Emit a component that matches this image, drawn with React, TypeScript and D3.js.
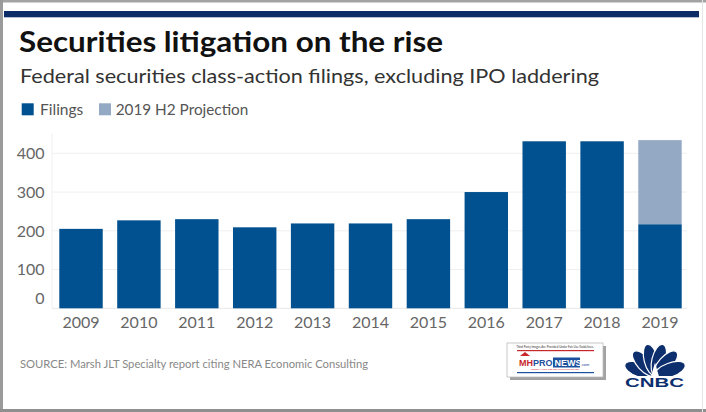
import React from 'react';
import * as d3 from 'd3';

const years = ['2009', '2010', '2011', '2012', '2013', '2014', '2015', '2016', '2017', '2018', '2019'];
const filings = [205, 227, 230, 209, 219, 219, 230, 300, 431, 431, 217];
const projection = [0, 0, 0, 0, 0, 0, 0, 0, 0, 0, 217];
const yTicks = [0, 100, 200, 300, 400];
const seriesNames = ['Filings', '2019 H2 Projection'];
const seriesColors = ['#01508f', '#94a9c3'];

const W = 706;
const H = 412;
const FONT = 'Lato, "Open Sans", sans-serif';

export default function App() {
  const x = d3.scaleBand<string>().domain(years).range([59.3, 681.7]).paddingInner(0.25).paddingOuter(0);
  const y = d3.scaleLinear().domain([0, 400]).range([308.3, 153.3]);

  const rows = years.map((yr, i) => ({ year: yr, filings: filings[i], projection: projection[i] }));
  const stacked = d3.stack<any>().keys(['filings', 'projection'])(rows);

  // CNBC peacock feathers
  const cx = 655, cy = 375.5;
  const angles = [-70, -42, -14, 14, 42, 70];

  return (
    <svg width={W} height={H} style={{ position: 'absolute', left: 0, top: 0, background: '#fff' }} fontFamily={FONT}>
      <rect x={0} y={0} width={W} height={H} fill="#fff" />
      {/* frame */}
      <rect x={0} y={0} width={W} height={2.5} fill="#a3a3a3" />
      <rect x={0} y={0} width={3} height={H} fill="#9a9a9a" />
      <rect x={0} y={409} width={W} height={3} fill="#8f8f8f" />
      <rect x={702} y={0} width={1} height={H} fill="#e6e6e6" />
      {/* top navy band */}
      <rect x={4} y={11} width={695} height={6.3} fill="#0b2c66" />

      {/* titles */}
      <text x={19} y={51.5} fontSize={28.5} fontWeight={700} fill="#111" textLength={424} lengthAdjust="spacingAndGlyphs">Securities litigation on the rise</text>
      <text x={20} y={82.5} fontSize={20} fill="#333" textLength={579} lengthAdjust="spacingAndGlyphs">Federal securities class-action filings, excluding IPO laddering</text>

      {/* legend */}
      <rect x={21.7} y={103.3} width={12} height={12} fill={seriesColors[0]} />
      <text x={40} y={115} fontSize={15} fill="#555" textLength={43.3} lengthAdjust="spacingAndGlyphs">{seriesNames[0]}</text>
      <rect x={99} y={103.3} width={12} height={12} fill={seriesColors[1]} />
      <text x={115.7} y={115} fontSize={15} fill="#555" textLength={132.6} lengthAdjust="spacingAndGlyphs">{seriesNames[1]}</text>

      {/* grid */}
      <line x1={52} x2={52} y1={133} y2={308.3} stroke="#f0f0f0" />
      {yTicks.map((t) => (
        <line key={'g' + t} x1={52} x2={687} y1={y(t)} y2={y(t)} stroke={t === 0 ? '#e8e8e8' : '#efefef'} />
      ))}
      {yTicks.map((t) => (
        <text key={'yl' + t} x={44.5} y={t === 0 ? y(t) - 10 : y(t)} dy="0.36em" textAnchor="end" fontSize={16} fill="#666">
          {t}
        </text>
      ))}

      {/* bars */}
      {stacked.map((s, si) => (
        <g key={s.key} fill={seriesColors[si]}>
          {s.map((d: any, i: number) => (
            d[1] - d[0] > 0 ? (
              <rect key={i} x={x(d.data.year)} y={y(d[1])} width={x.bandwidth()} height={y(d[0]) - y(d[1])} />
            ) : null
          ))}
        </g>
      ))}

      {/* x labels */}
      {years.map((yr) => (
        <text key={yr} x={(x(yr) as number) + x.bandwidth() / 2} y={328.3} textAnchor="middle" fontSize={16} fill="#666">
          {yr}
        </text>
      ))}

      {/* source */}
      <text x={20} y={367.5} fontSize={12} fill="#888" textLength={348} lengthAdjust="spacingAndGlyphs">SOURCE: Marsh JLT Specialty report citing NERA Economic Consulting</text>

      {/* MHProNews logo */}
      <g>
        <rect x={510} y={346} width={96} height={34} fill="#555" opacity={0.55} />
        <rect x={507} y={343} width={96} height={34} fill="#fff" stroke="#bbb" strokeWidth={0.8} />
        <text x={555} y={347.5} fontSize={3} textAnchor="middle" fill="#333">Third Party Images Are Provided Under Fair Use Guidelines.</text>
        <rect x={517} y={350} width={77} height={1.2} fill="#c8262c" />
        <path d="M520,356 L525,352 L530,356 Z" fill="#c8262c" />
        <text x={519} y={366} fontSize={9} fontWeight={700} fill="#c8262c" fontFamily="'Liberation Sans', Arial, sans-serif">MH</text>
        <text x={533} y={366} fontSize={9} fontWeight={700} fill="#1c4f9c" fontFamily="'Liberation Sans', Arial, sans-serif">PRO</text>
        <rect x={553} y={357.5} width={27} height={10} fill="#1c4f9c" />
        <text x={554.5} y={366} fontSize={9} fontWeight={700} fill="#fff" fontFamily="'Liberation Sans', Arial, sans-serif">NEWS</text>
        <text x={581} y={366} fontSize={4} fill="#1c4f9c">.com</text>
        <text x={555} y={370} fontSize={2.5} textAnchor="middle" fill="#c8262c">Industry News, Tips and Views Pros can Use</text>
        <rect x={517} y={372} width={77} height={1.2} fill="#1c4f9c" />
      </g>

      {/* CNBC logo */}
      <g>
        {angles.map((a) => {
          const r = (a * Math.PI) / 180;
          const ex = cx + 16 * Math.sin(r);
          const ey = cy - 16 * Math.cos(r);
          return (
            <ellipse key={a} cx={ex} cy={ey} rx={7} ry={16} transform={`rotate(${a} ${ex} ${ey})`} fill="#0d2f6e" stroke="#fff" strokeWidth={1.2} />
          );
        })}
        <path d={`M${cx - 4},${cy + 1} L${cx},${cy - 13} L${cx + 4},${cy + 1} Z`} fill="#fff" />
        <rect x={618} y={376} width={74} height={12} fill="#fff" />
        <text x={625} y={386.5} fontSize={12.5} fontWeight={900} fill="#0d2f6e" textLength={59} lengthAdjust="spacingAndGlyphs" fontFamily="'Liberation Sans', Arial, sans-serif">CNBC</text>
      </g>
    </svg>
  );
}
